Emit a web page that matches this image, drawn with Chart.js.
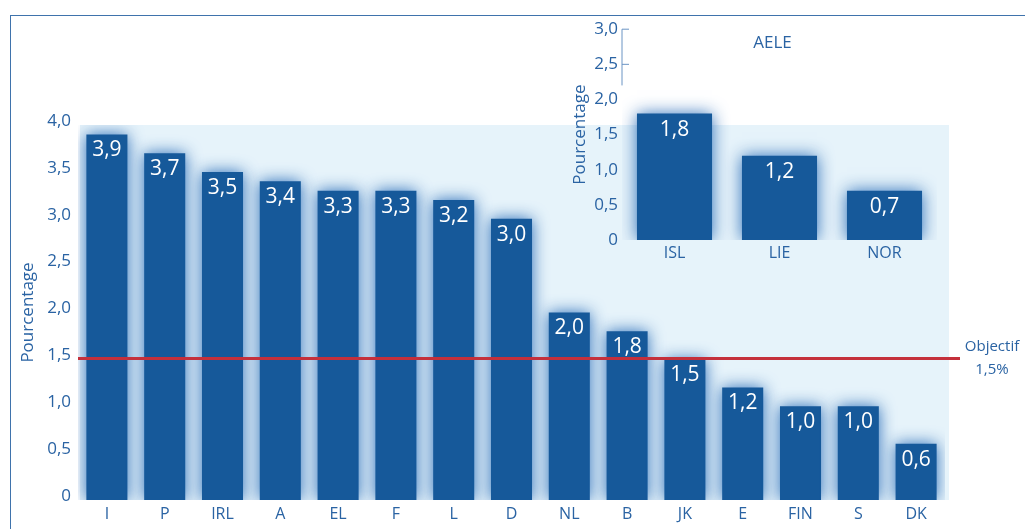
<!DOCTYPE html>
<html>
<head>
<meta charset="utf-8">
<script src="https://cdn.jsdelivr.net/npm/chart.js@4/dist/chart.umd.min.js"></script>
<style>
  html, body { margin: 0; padding: 0; background: #fff; }
  #page { position: relative; width: 1025px; height: 529px; overflow: hidden; }
  #frame { position: absolute; left: 10px; top: 15px; width: 1030px; height: 530px;
           border-left: 1.5px solid #3f73ac; border-top: 1.5px solid #3f73ac; }
  #main { position: absolute; left: 0; top: 0; }
  #inset { position: absolute; left: 560px; top: 15px; }
</style>
</head>
<body>
<div id="page">
  <div id="frame"></div>
  <canvas id="main" width="1025" height="529"></canvas>
  <canvas id="inset" width="400" height="260"></canvas>
</div>
<script>
"use strict";

// main chart data (UE)
var categories = ['I', 'P', 'IRL', 'A', 'EL', 'F', 'L', 'D', 'NL', 'B', 'JK', 'E', 'FIN', 'S', 'DK'];
var values = [3.9, 3.7, 3.5, 3.4, 3.3, 3.3, 3.2, 3.0, 2.0, 1.8, 1.5, 1.2, 1.0, 1.0, 0.6];
var objectif = 1.5;
var objectifLabel = ['Objectif', '1,5%'];

// inset data (AELE)
var aeleTitle = 'AELE';
var aeleCategories = ['ISL', 'LIE', 'NOR'];
var aeleValues = [1.8, 1.2, 0.7];

var blue = '#16599a';
var textBlue = '#2a63a3';
var font = "'Open Sans', sans-serif";

function fmt(v) {
    return v === 0 ? '0' : v.toFixed(1).replace('.', ',');
}

/* glow round the bars */
var glow = {
    id: 'glow',
    beforeDatasetsDraw: function (chart) {
        var ctx = chart.ctx;
        ctx.save();
        ctx.shadowColor = 'rgba(30, 100, 180, 0.95)';
        ctx.shadowBlur = 16;
    },
    afterDatasetsDraw: function (chart) {
        chart.ctx.restore();
    }
};

/* white values inside the top of each bar */
var barValues = {
    id: 'barValues',
    afterDatasetsDraw: function (chart) {
        var ctx = chart.ctx;
        var data = chart.data.datasets[0].data;
        ctx.save();
        ctx.fillStyle = '#ffffff';
        ctx.font = '21px ' + font;
        ctx.textAlign = 'center';
        ctx.textBaseline = 'middle';
        chart.getDatasetMeta(0).data.forEach(function (bar, i) {
            ctx.fillText(fmt(data[i]), bar.x, bar.y + 16);
        });
        ctx.restore();
    }
};

/* light panel behind the main chart */
var panel = {
    id: 'panel',
    beforeDraw: function (chart) {
        var a = chart.chartArea;
        var ctx = chart.ctx;
        ctx.save();
        ctx.fillStyle = '#e6f3fa';
        ctx.fillRect(a.left + 2, a.top, a.right - a.left + 2, a.bottom - a.top);
        ctx.restore();
    }
};

/* objective line */
var objectifLine = {
    id: 'objectifLine',
    afterDatasetsDraw: function (chart) {
        var a = chart.chartArea;
        var ctx = chart.ctx;
        var y = chart.scales.y.getPixelForValue(objectif) - 1;
        ctx.save();
        ctx.strokeStyle = '#c4303b';
        ctx.lineWidth = 3;
        ctx.beginPath();
        ctx.moveTo(a.left, y);
        ctx.lineTo(a.right + 15, y);
        ctx.stroke();
        ctx.fillStyle = textBlue;
        ctx.font = '15px ' + font;
        ctx.textAlign = 'center';
        ctx.textBaseline = 'middle';
        ctx.fillText(objectifLabel[0], a.right + 47, y - 12);
        ctx.fillText(objectifLabel[1], a.right + 47, y + 11);
        ctx.restore();
    }
};

new Chart(document.getElementById('main').getContext('2d'), {
    type: 'bar',
    data: {
        labels: categories,
        datasets: [{
            data: values,
            backgroundColor: blue,
            borderWidth: 0,
            barPercentage: 0.71,
            categoryPercentage: 1
        }]
    },
    options: {
        responsive: false,
        animation: false,
        layout: { padding: { left: 18, right: 80, top: 125, bottom: 0 } },
        plugins: { legend: { display: false }, tooltip: { enabled: false } },
        scales: {
            x: {
                grid: { display: false, drawTicks: false },
                border: { display: false },
                ticks: { color: textBlue, font: { size: 16, family: font }, padding: 5, maxRotation: 0 },
                afterFit: function (s) { s.height = 29; }
            },
            y: {
                min: 0,
                max: 4,
                grid: { display: false, drawTicks: false },
                border: { display: false },
                ticks: { stepSize: 0.5, color: textBlue, font: { size: 17, family: font }, padding: 7,
                         labelOffset: -4,
                         callback: function (v) { return fmt(v); } },
                title: { display: true, text: 'Pourcentage', color: textBlue,
                         font: { size: 17, family: font }, padding: 0 },
                afterFit: function (s) { s.width = 60; }
            }
        }
    },
    plugins: [panel, glow, barValues, objectifLine]
});

/* inset axis: line and ticks at the top only */
var insetAxis = {
    id: 'insetAxis',
    afterDraw: function (chart) {
        var s = chart.scales.y;
        var ctx = chart.ctx;
        var x = chart.chartArea.left;
        ctx.save();
        ctx.strokeStyle = '#6b94c4';
        ctx.lineWidth = 1;
        ctx.beginPath();
        ctx.moveTo(x, s.getPixelForValue(3));
        ctx.lineTo(x, s.getPixelForValue(2.2));
        [3, 2.5].forEach(function (v) {
            var y = s.getPixelForValue(v);
            ctx.moveTo(x, y);
            ctx.lineTo(x + 7, y);
        });
        ctx.stroke();
        ctx.fillStyle = textBlue;
        ctx.font = '17px ' + font;
        ctx.textAlign = 'center';
        ctx.textBaseline = 'middle';
        ctx.fillText(aeleTitle, chart.scales.x.getPixelForValue(1) - 7, s.getPixelForValue(2.8));
        ctx.restore();
    }
};

new Chart(document.getElementById('inset').getContext('2d'), {
    type: 'bar',
    data: {
        labels: aeleCategories,
        datasets: [{
            data: aeleValues,
            backgroundColor: blue,
            borderWidth: 0,
            barPercentage: 0.715,
            categoryPercentage: 1
        }]
    },
    options: {
        responsive: false,
        animation: false,
        layout: { padding: { left: 10, right: 23, top: 12, bottom: 0 } },
        plugins: { legend: { display: false }, tooltip: { enabled: false } },
        scales: {
            x: {
                grid: { display: false, drawTicks: false },
                border: { display: false },
                ticks: { color: textBlue, font: { size: 16, family: font }, padding: 4, maxRotation: 0 },
                afterFit: function (s) { s.height = 35; }
            },
            y: {
                min: 0,
                max: 3,
                grid: { display: false, drawTicks: false },
                border: { display: false },
                ticks: { stepSize: 0.5, color: textBlue, font: { size: 17, family: font }, padding: 4,
                         callback: function (v) { return fmt(v); } },
                title: { display: true, text: 'Pourcentage', color: textBlue,
                         font: { size: 17, family: font }, padding: 0 },
                afterFit: function (s) { s.width = 52; }
            }
        }
    },
    plugins: [glow, barValues, insetAxis]
});
</script>
</body>
</html>
